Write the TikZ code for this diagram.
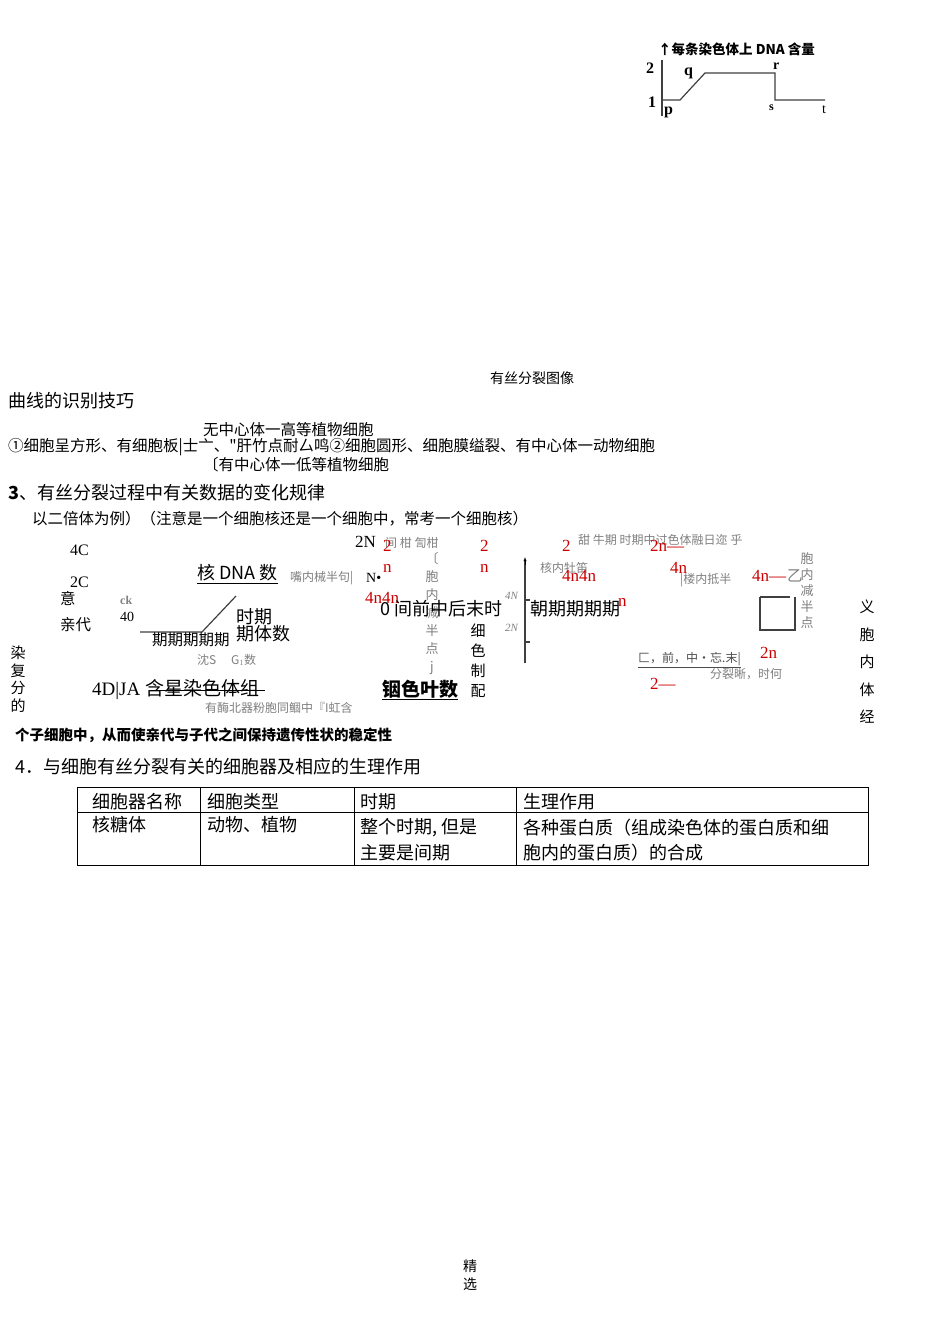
\documentclass[tikz,border=0pt]{standalone}
\usepackage{fontspec}
\setmainfont{Liberation Serif}
\newfontfamily\cjk{Noto Sans CJK SC}
\begin{document}
\begin{tikzpicture}[x=1pt,y=-1pt,
  t/.style={anchor=west,inner sep=0pt,font=\cjk\fontsize{18}{20}\selectfont},
  s/.style={anchor=west,inner sep=0pt,font=\cjk\fontsize{15.5}{17}\selectfont},
  g/.style={anchor=west,inner sep=0pt,font=\cjk\fontsize{12}{14}\selectfont,text=gray},
  r/.style={anchor=west,inner sep=0pt,font=\fontsize{17}{19}\selectfont,text=red!80!black},
  v/.style={anchor=north,inner sep=0pt,align=center,font=\cjk\fontsize{15}{27.5}\selectfont},
  ln/.style={line width=1.2pt,black!75}]
\useasboundingbox (0,0) rectangle (950,1318);
\fill[white] (0,0) rectangle (950,1318);
% top right graph
\node[g,text=black,font=\cjk\bfseries\fontsize{13.5}{15}\selectfont] (gt) at (658,49) {↑每条染色体上 DNA 含量};
\draw[ln] (662,60) -- (662,116);
\draw[ln] (662,100) -- (680,100) -- (705,73) -- (775,73) -- (775,100) -- (825,100);
\node[s,font=\bfseries\fontsize{16}{18}\selectfont] (l2) at (646,68) {2};
\node[s,font=\bfseries\fontsize{16}{18}\selectfont] (l1) at (648,102) {1};
\node[s,font=\bfseries\fontsize{16}{18}\selectfont] (lp) at (664,112) {p};
\node[s,font=\bfseries\fontsize{16}{18}\selectfont] (lq) at (684,73) {q};
\node[s,font=\bfseries\fontsize{14}{16}\selectfont] (lr) at (773,66) {r};
\node[g,text=black,font=\bfseries\fontsize{12}{14}\selectfont] (ls) at (769,108) {s};
\node[g,text=black,font=\fontsize{14}{14}\selectfont] (lt) at (822,110) {t};
\node[g,text=black,font=\cjk\fontsize{14}{15}\selectfont] (yf) at (490,378) {有丝分裂图像};
% text block
\node[t] (a1) at (8,401) {曲线的识别技巧};
\node[s] (a2) at (203,430) {无中心体一高等植物细胞};
\node[s] (a3) at (8,447) {①细胞呈方形、有细胞板|士亠、"肝竹点耐厶鸣②细胞圆形、细胞膜缢裂、有中心体一动物细胞};
\node[s] (a4) at (203,465) {〔有中心体一低等植物细胞};
\node[t] (a5) at (8,493) {\textbf{3}、有丝分裂过程中有关数据的变化规律};
\node[s] (a6) at (32,519) {以二倍体为例）（注意是一个细胞核还是一个细胞中，常考一个细胞核）};
% messy area
\node[s,font=\fontsize{16}{18}\selectfont] (b1) at (70,550) {4C};
\node[s,font=\fontsize{16}{18}\selectfont] (b2) at (70,582) {2C};
\node[s] (b3) at (60,598) {意};
\node[s] (b4) at (60,625) {亲代};
\node[s,font=\bfseries\fontsize{12}{13}\selectfont,text=gray] (b5) at (120,600) {ck};
\node[s,font=\fontsize{14}{15}\selectfont] (b6) at (120,617) {40};
\node[t] (b7) at (197,574) {\underline{核 DNA 数}};
\draw[ln] (140,632) -- (202,632) -- (236,596);
\node[t] (b8) at (236,617) {时期};
\node[t] (b9) at (236,634) {期体数};
\node[s] (b10) at (152,640) {期期期期期};
\node[g] (b11) at (197,660) {沈S \quad G$_1$数};
\node[t,font=\fontsize{19}{20}\selectfont] (b12) at (92,690) {4D|JA \cjk 含星染色体组};
\draw (150,690) -- (265,690);
\node[g] (b13) at (205,708) {有酶北器粉胞同鲴中『I虹含};
\node[v,font=\cjk\fontsize{15}{17.5}\selectfont] (b14) at (18,646) {染\\复\\分\\的};
\node[g] (b15) at (290,578) {嘴内械半句|};
\node[t,font=\fontsize{17}{19}\selectfont] (c1) at (355,542) {2N};
\node[g] (c1b) at (385,543) {间 柑 訇柑};
\node[r] (c2) at (383,546) {2};
\node[r] (c3) at (383,568) {n};
\node[t,font=\fontsize{14}{15}\selectfont] (c4) at (366,578) {N•};
\node[r] (c5) at (365,598) {4n4n};
\node[v,font=\cjk\fontsize{13}{18}\selectfont,text=gray] (c6) at (432,552) {〔\\胞\\内\\减\\半\\点\\j};
\node[t,font=\cjk\fontsize{18}{20}\selectfont] (c7) at (380,609) {0 间前中后末时};
\node[v,font=\cjk\fontsize{15}{20}\selectfont] (c8) at (478,624) {细\\色\\制\\配};
\node[t,font=\cjk\bfseries\fontsize{19}{20}\selectfont] (c9) at (382,690) {\underline{铟色叶数}};
\node[r] (c10) at (480,546) {2};
\node[r] (c11) at (480,568) {n};
\draw[ln] (525,560) -- (525,663);
\draw[-latex] (525,565) -- (525,557);
\draw[ln] (525,600) -- (530,600); \draw[ln] (525,642) -- (530,642);
\node[g,font=\itshape\fontsize{11}{12}\selectfont] (c12) at (505,596) {4N};
\node[g,font=\itshape\fontsize{11}{12}\selectfont] (c13) at (505,628) {2N};
\node[g] (c14) at (540,568) {核内牡笛};
\node[t,font=\cjk\fontsize{18}{20}\selectfont] (c15) at (530,609) {朝期期期期};
\node[g] (c16) at (578,540) {甜 牛期 时期中过色体融日迩 乎};
\node[r] (c17) at (562,546) {2};
\node[r] (c18) at (562,576) {4n4n};
\node[r] (c18b) at (618,602) {n};
\node[r] (c19) at (650,546) {2n—};
\node[r] (c20) at (670,568) {4n};
\node[g] (c21) at (680,580) {|楼内抵半};
\node[r] (c22) at (752,576) {4n—};
\node[s,text=gray] (c22b) at (787,576) {乙};
\draw[ln] (760,597) -- (790,597) (760,597) -- (760,630) -- (795,630) -- (795,597);
\node[v,font=\cjk\fontsize{13}{16}\selectfont,text=gray] (c23) at (807,552) {胞\\内\\减\\半\\点};
\node[r] (c24) at (760,653) {2n};
\node[g,text=black!70] (c25) at (638,660) {\underline{匚，前，中·忘.末|}};
\node[g] (c26) at (710,674) {分裂晰，时何};
\node[r] (c27) at (650,684) {2—};
\node[v] (c28) at (867,600) {义\\胞\\内\\体\\经};
\node[s,font=\cjk\bfseries\fontsize{14.5}{15}\selectfont] (d1) at (15,735) {个子细胞中，从而使亲代与子代之间保持遗传性状的稳定性};
\node[t] (d2) at (15,767) {4．与细胞有丝分裂有关的细胞器及相应的生理作用};
% table
\draw (77,787) rectangle (868,865);
\draw (77,812) -- (868,812);
\draw (200,787) -- (200,865) (354,787) -- (354,865) (516,787) -- (516,865);
\node[t] (h1) at (92,802) {细胞器名称};
\node[t] (h2) at (207,802) {细胞类型};
\node[t] (h3) at (360,802) {时期};
\node[t] (h4) at (523,802) {生理作用};
\node[t] (r1) at (92,825) {核糖体};
\node[t] (r2) at (207,825) {动物、植物};
\node[t] (r3) at (360,828) {整个时期, 但是};
\node[t] (r3b) at (360,853) {主要是间期};
\node[t] (r4) at (523,828) {各种蛋白质（组成染色体的蛋白质和细};
\node[t] (r4b) at (523,853) {胞内的蛋白质）的合成};
\node[v,font=\cjk\fontsize{14}{18}\selectfont] (f) at (470,1260) {精\\选};
\end{tikzpicture}
\end{document}
